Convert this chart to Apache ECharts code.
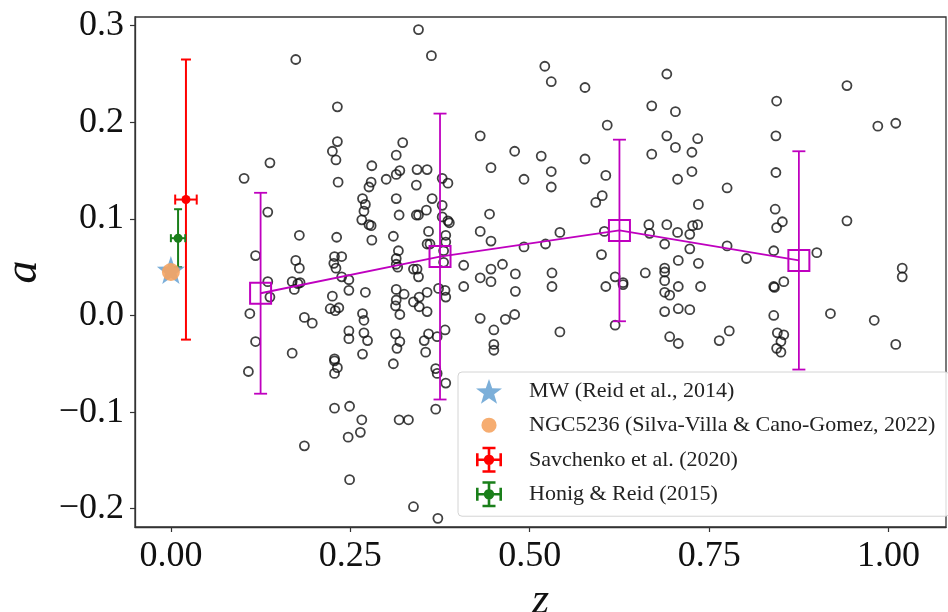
<!DOCTYPE html>
<html>
<head>
<meta charset="utf-8">
<script src="https://cdn.jsdelivr.net/npm/echarts@6/dist/echarts.min.js"></script>
<style>
  html, body { margin: 0; padding: 0; background: #fff; }
  #chart { width: 948px; height: 612px; }
</style>
</head>
<body>
<div id="chart"></div>
<script>
// individual galaxies: [z, a]
const galaxies = [
  [0.135,0.107],[0.118,0.062],[0.135,0.035],[0.138,0.019],[0.110,0.002],[0.118,-0.027],[0.169,-0.039],
  [0.179,0.083],[0.174,0.057],[0.179,0.049],[0.169,0.035],[0.177,0.033],[0.180,0.034],[0.172,0.027],
  [0.186,-0.002],[0.197,-0.008],[0.231,0.081],[0.228,0.061],[0.238,0.061],[0.227,0.054],[0.230,0.049],
  [0.238,0.040],[0.248,0.037],[0.248,0.026],[0.225,0.020],[0.222,0.007],[0.234,0.008],[0.229,0.005],
  [0.271,0.024],[0.267,0.002],[0.269,-0.005],[0.248,-0.016],[0.248,-0.024],[0.269,-0.018],[0.274,-0.026],
  [0.228,-0.045],[0.267,-0.040],[0.267,0.121],[0.271,0.115],[0.269,0.108],[0.266,0.099],[0.276,0.094],
  [0.279,0.093],[0.280,0.078],[0.314,0.121],[0.318,0.104],[0.310,0.082],[0.317,0.067],[0.314,0.059],
  [0.314,0.053],[0.316,0.050],[0.314,0.027],[0.325,0.022],[0.314,0.016],[0.313,0.010],[0.319,0.001],
  [0.313,-0.019],[0.319,-0.027],[0.315,-0.034],
  [0.174,0.265],[0.232,0.216],[0.232,0.180],[0.225,0.170],[0.230,0.161],[0.233,0.138],[0.138,0.158],
  [0.102,0.142],[0.280,0.155],[0.279,0.138],[0.276,0.133],[0.300,0.141],[0.314,0.146],[0.319,0.150],
  [0.314,0.166],[0.323,0.179],
  [0.345,0.296],[0.363,0.269],[0.521,0.258],[0.530,0.242],[0.577,0.236],[0.691,0.250],[0.670,0.217],
  [0.703,0.211],[0.608,0.197],[0.691,0.186],[0.703,0.174],[0.670,0.167],[0.706,0.141],[0.431,0.186],
  [0.479,0.170],[0.516,0.165],[0.577,0.162],[0.446,0.153],[0.530,0.149],[0.492,0.141],[0.530,0.133],
  [0.606,0.145],[0.343,0.151],[0.357,0.151],[0.342,0.135],[0.378,0.142],[0.386,0.137],
  [0.942,0.238],[0.844,0.222],[0.985,0.196],[1.010,0.199],[0.843,0.186],[0.734,0.183],[0.726,0.169],
  [0.843,0.148],[0.726,0.149],[0.775,0.132],
  [0.364,0.121],[0.378,0.114],[0.356,0.109],[0.342,0.104],[0.345,0.104],[0.378,0.102],[0.386,0.098],
  [0.388,0.096],[0.444,0.105],[0.601,0.124],[0.592,0.117],[0.666,0.094],[0.667,0.085],[0.691,0.094],
  [0.706,0.086],[0.359,0.087],[0.431,0.087],[0.446,0.077],[0.542,0.086],[0.383,0.083],[0.357,0.074],
  [0.361,0.074],[0.383,0.076],[0.380,0.067],[0.492,0.071],[0.522,0.074],[0.604,0.087],[0.600,0.063],
  [0.688,0.074],[0.707,0.057],[0.338,0.048],[0.343,0.048],[0.345,0.040],[0.380,0.055],[0.408,0.052],
  [0.446,0.048],[0.462,0.053],[0.480,0.043],[0.431,0.039],[0.446,0.035],[0.531,0.044],[0.531,0.030],
  [0.408,0.030],[0.480,0.025],[0.619,0.040],[0.630,0.034],[0.630,0.032],[0.606,0.030],[0.661,0.044],
  [0.688,0.049],[0.688,0.045],[0.688,0.036],[0.688,0.024],[0.695,0.021],[0.707,0.030],[0.357,0.024],
  [0.346,0.019],[0.338,0.014],[0.346,0.009],[0.357,0.004],[0.373,0.028],[0.382,0.026],[0.383,0.019],
  [0.431,-0.003],[0.466,-0.004],[0.479,0.001],[0.450,-0.015],[0.542,-0.017],[0.619,-0.010],[0.688,0.004],
  [0.707,0.007],[0.695,-0.022],[0.707,-0.029],[0.382,-0.015],[0.371,-0.022],[0.359,-0.019],[0.353,-0.026],
  [0.355,-0.038],[0.450,-0.030],[0.450,-0.036],
  [0.735,0.115],[0.842,0.110],[0.852,0.097],[0.844,0.091],[0.942,0.098],[0.727,0.093],[0.734,0.094],
  [0.723,0.084],[0.775,0.072],[0.723,0.069],[0.840,0.067],[0.802,0.059],[0.735,0.054],[0.900,0.065],
  [1.019,0.049],[1.019,0.040],[0.738,0.030],[0.840,0.030],[0.841,0.029],[0.854,0.035],[0.723,0.006],
  [0.840,0.000],[0.919,0.002],[0.980,-0.005],[1.010,-0.030],[0.778,-0.016],[0.764,-0.026],[0.845,-0.018],
  [0.854,-0.020],[0.850,-0.027],[0.844,-0.034],[0.850,-0.038],
  [0.108,-0.058],[0.228,-0.047],[0.232,-0.054],[0.228,-0.060],[0.310,-0.050],[0.228,-0.096],[0.249,-0.094],
  [0.266,-0.108],[0.264,-0.121],[0.247,-0.126],[0.186,-0.135],[0.249,-0.170],[0.318,-0.108],[0.331,-0.108],
  [0.369,-0.055],[0.371,-0.060],[0.383,-0.070],[0.369,-0.097],[0.338,-0.198],[0.372,-0.210]
]

// binned means (magenta)
const binZ = [0.125, 0.375, 0.625, 0.875]
const binA = [0.023, 0.061, 0.088, 0.057]
const binErr = [0.104, 0.148, 0.094, 0.113]

// literature values: [z, a] or [z, a, zErr, aErr]
const mwPoint = [0.0, 0.047]
const ngcPoint = [0.0, 0.045]
const savchenko = [0.021, 0.120, 0.015, 0.145]
const honig = [0.010, 0.080, 0.010, 0.030]

const xTicks = [0, 0.25, 0.5, 0.75, 1.0]
const yTicks = [-0.2, -0.1, 0, 0.1, 0.2, 0.3]

const names = ['MW (Reid et al., 2014)', 'NGC5236 (Silva-Villa & Cano-Gomez, 2022)', 'Savchenko et al. (2020)', 'Honig & Reid (2015)']

const serif = '"Liberation Serif", "DejaVu Serif", serif'
const magenta = '#bf00bf'

const starPath = 'path://M12,2 L14.35,8.76 L21.51,8.91 L15.80,13.24 L17.88,20.09 L12,16 L6.12,20.09 L8.20,13.24 L2.49,8.91 L9.65,8.76 Z'
const dotIcon = 'path://M0,0 L0,0 M24,24 L24,24 M5,12 A7,7 0 1,1 19,12 A7,7 0 1,1 5,12 Z'
const errIcon = 'path://M2,11 H22 V13 H2 Z M11,2 H13 V22 H11 Z M2,7 H4 V17 H2 Z M20,7 H22 V17 H20 Z M7,2 H17 V4 H7 Z M7,20 H17 V22 H7 Z M8,12 A4,4 0 1,1 16,12 A4,4 0 1,1 8,12 Z'

// error bar drawing for custom series, data item = [z, a, zErr, aErr]
function errorBars(color, width, cap, dotR) {
  return function (params, api) {
    const z = api.value(0), a = api.value(1), ex = api.value(2), ey = api.value(3)
    const c = api.coord([z, a])
    const t = api.coord([z, a + ey])
    const b = api.coord([z, a - ey])
    const st = { stroke: color, lineWidth: width }
    const seg = (x1, y1, x2, y2) => ({ type: 'line', shape: { x1, y1, x2, y2 }, style: st })
    const kids = [
      seg(c[0], t[1], c[0], b[1]),
      seg(c[0] - cap, t[1], c[0] + cap, t[1]),
      seg(c[0] - cap, b[1], c[0] + cap, b[1])
    ]
    if (ex > 0) {
      const l = api.coord([z - ex, a]), r = api.coord([z + ex, a])
      kids.push(seg(l[0], c[1], r[0], c[1]))
      kids.push(seg(l[0], c[1] - cap, l[0], c[1] + cap))
      kids.push(seg(r[0], c[1] - cap, r[0], c[1] + cap))
    }
    if (dotR) kids.push({ type: 'circle', shape: { cx: c[0], cy: c[1], r: dotR }, style: { fill: color } })
    return { type: 'group', children: kids }
  }
}

const chart = echarts.init(document.getElementById('chart'), null, { renderer: 'canvas' })

chart.setOption({
  animation: false,
  backgroundColor: '#fff',
  grid: {
    left: 135, top: 17, right: 2, bottom: 85,
    outerBoundsMode: 'none', containLabel: false,
    show: true, borderColor: '#333', borderWidth: 1.3, backgroundColor: '#fff'
  },
  legend: {
    orient: 'vertical',
    left: 458, top: 372,
    padding: [7, 14, 9, 18],
    itemWidth: 26, itemHeight: 26, itemGap: 8.5,
    backgroundColor: 'rgba(255,255,255,0.85)',
    borderColor: '#d4d4d4', borderWidth: 1, borderRadius: 4,
    selectedMode: false,
    textStyle: { fontFamily: serif, fontSize: 22, color: '#222', padding: [0, 0, 0, 22] },
    data: [
      { name: names[0], icon: starPath },
      { name: names[1], icon: dotIcon },
      { name: names[2], icon: errIcon },
      { name: names[3], icon: errIcon }
    ]
  },
  xAxis: {
    type: 'value', min: -0.05, max: 1.08,
    name: 'z', nameLocation: 'middle', nameGap: 48,
    nameTextStyle: { fontFamily: serif, fontStyle: 'italic', fontSize: 44, color: '#111' },
    splitLine: { show: false },
    axisLine: { show: true, onZero: false, lineStyle: { color: '#333', width: 1.3 } },
    axisTick: { show: true, length: 5, customValues: xTicks, lineStyle: { color: '#333', width: 1.2 } },
    axisLabel: {
      customValues: xTicks, margin: 12,
      formatter: v => v.toFixed(2),
      fontFamily: serif, fontSize: 36, color: '#111'
    }
  },
  yAxis: {
    type: 'value', min: -0.219, max: 0.309,
    name: 'a', nameLocation: 'middle', nameGap: 88,
    nameTextStyle: { fontFamily: serif, fontStyle: 'italic', fontSize: 46, color: '#111' },
    splitLine: { show: false },
    axisLine: { show: true, onZero: false, lineStyle: { color: '#333', width: 1.3 } },
    axisTick: { show: true, length: 5, customValues: yTicks, lineStyle: { color: '#333', width: 1.2 } },
    axisLabel: {
      customValues: yTicks, margin: 11,
      formatter: v => (v < -1e-9 ? '\u2212' : '') + Math.abs(v).toFixed(1),
      fontFamily: serif, fontSize: 36, color: '#111'
    }
  },
  series: [
    {
      type: 'scatter', name: 'galaxies', silent: true,
      symbol: 'circle', symbolSize: 9,
      itemStyle: { color: 'rgba(0,0,0,0)', borderColor: '#111', borderWidth: 1.8 },
      data: galaxies, z: 2
    },
    {
      type: 'custom', name: 'binErr', silent: true,
      renderItem: errorBars(magenta, 1.8, 6.5, 0),
      data: binZ.map((z, i) => [z, binA[i], 0, binErr[i]]), z: 3
    },
    {
      type: 'line', name: 'bins', silent: true,
      symbol: 'rect', symbolSize: 21, showAllSymbol: true,
      lineStyle: { color: magenta, width: 1.8 },
      itemStyle: { color: 'rgba(0,0,0,0)', borderColor: magenta, borderWidth: 2 },
      data: binZ.map((z, i) => [z, binA[i]]), z: 3
    },
    {
      type: 'custom', name: names[2], silent: true,
      itemStyle: { color: '#ff0000' },
      renderItem: errorBars('#ff0000', 2, 5, 4.5),
      data: [savchenko], z: 4
    },
    {
      type: 'custom', name: names[3], silent: true,
      itemStyle: { color: '#1a7f1a' },
      renderItem: errorBars('#1a7f1a', 2, 4, 4.5),
      data: [honig], z: 4
    },
    {
      type: 'scatter', name: names[0], silent: true,
      symbol: starPath, symbolSize: 28,
      itemStyle: { color: '#5b9bd0' },
      data: [mwPoint], z: 5
    },
    {
      type: 'scatter', name: names[1], silent: true,
      symbol: 'circle', symbolSize: 18,
      itemStyle: { color: '#f5a462', opacity: 0.9 },
      data: [ngcPoint], z: 6
    }
  ]
})
</script>
</body>
</html>
